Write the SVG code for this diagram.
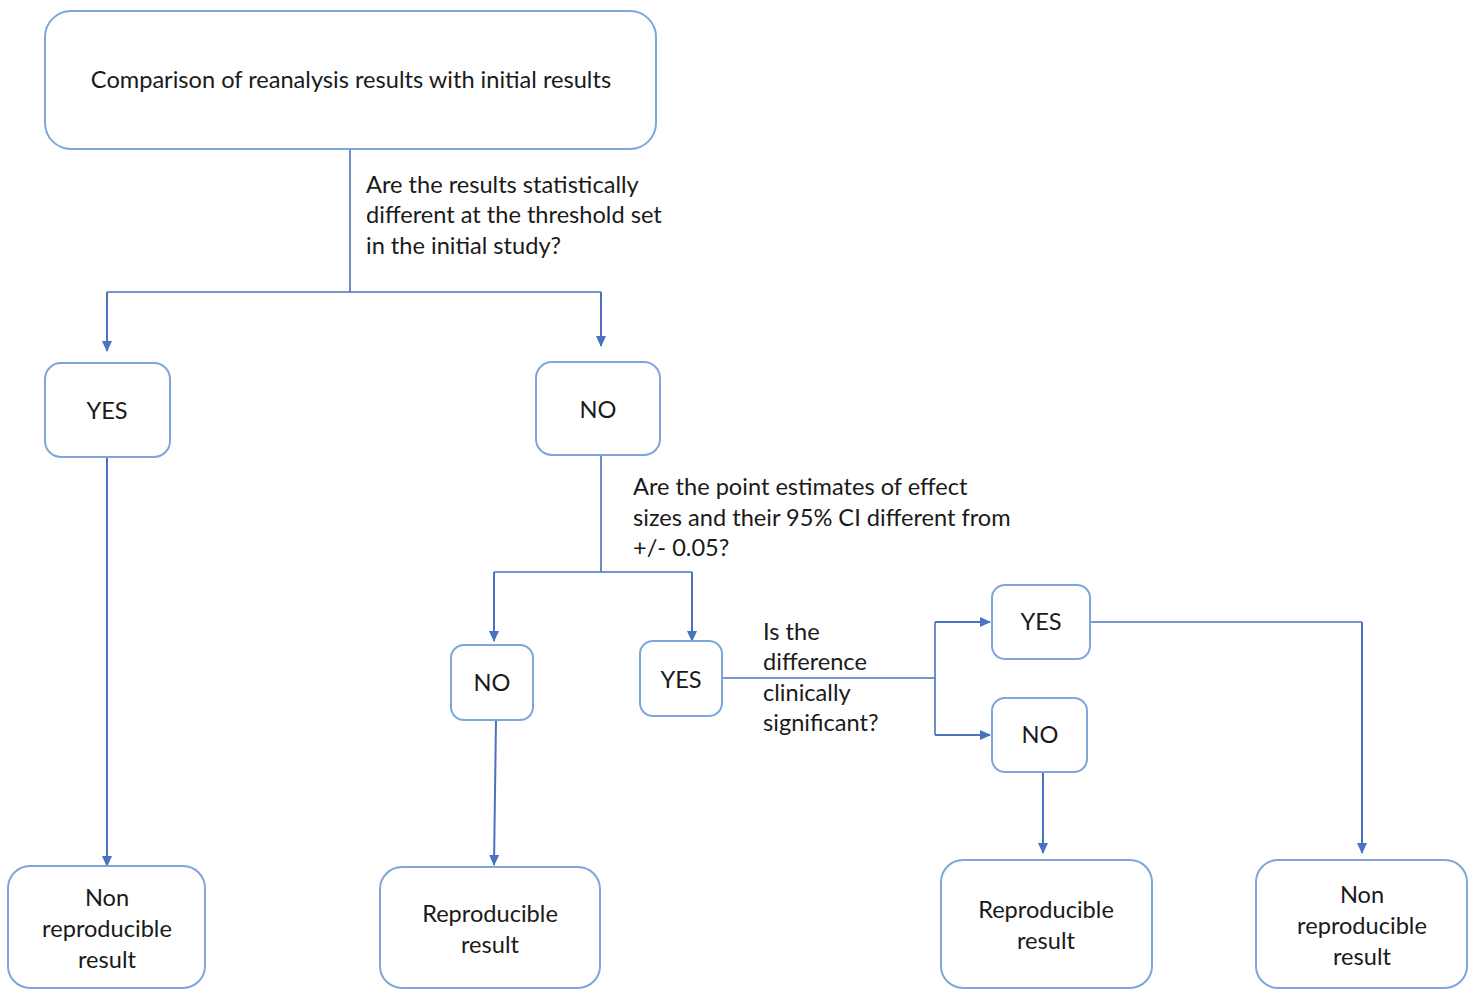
<svg xmlns="http://www.w3.org/2000/svg" width="1477" height="990" viewBox="0 0 1477 990">
<defs>
<style>
.box{fill:#fff;stroke:#7fa6dc;stroke-width:2}
.t{font-family:Lato,"Liberation Sans",sans-serif;font-size:23.6px;fill:#1a1a1a}
.c{text-anchor:middle}
.ln{fill:none;stroke:#4a72c0;stroke-width:1.6}
.la{fill:none;stroke:#4a72c0;stroke-width:2;marker-end:url(#ah)}
</style>
<marker id="ah" markerWidth="12" markerHeight="12" refX="10" refY="6" orient="auto" markerUnits="userSpaceOnUse">
<path d="M0,1 L11,6 L0,11 Z" fill="#4a72c0"/>
</marker>
</defs>
<rect width="1477" height="990" fill="#fff"/>
<g id="connectors">
<path class="ln" d="M350,149 V292 M107,292 H601"/>
<path class="la" d="M107,292 V351"/>
<path class="la" d="M601,292 V346"/>
<path class="la" d="M107,457 V866"/>
<path class="ln" d="M601,455 V572 M494,572 H692"/>
<path class="la" d="M494,572 V641"/>
<path class="la" d="M692,572 V641"/>
<path class="la" d="M496,720 L494,865"/>
<path class="ln" d="M722,678 H935 M935,622 V735"/>
<path class="la" d="M935,622 H990"/>
<path class="la" d="M935,735 H990"/>
<path class="ln" d="M1090,622 H1362"/>
<path class="la" d="M1362,622 V853"/>
<path class="la" d="M1043,772 V853"/>
<text class="t" x="366" y="193">Are the results statistically</text>
<text class="t" x="366" y="223">different at the threshold set</text>
<text class="t" x="366" y="254">in the initial study?</text>
<text class="t" x="633" y="495">Are the point estimates of effect</text>
<text class="t" x="633" y="526">sizes and their 95% CI different from</text>
<text class="t" x="633" y="556">+/- 0.05?</text>
<text class="t" x="763" y="640">Is the</text>
<text class="t" x="763" y="670">difference</text>
<text class="t" x="763" y="701">clinically</text>
<text class="t" x="763" y="731">significant?</text>
</g>
<g id="top"><rect class="box" x="45" y="11" width="611" height="138" rx="26"/><text class="t c" x="351" y="88">Comparison of reanalysis results with initial results</text></g>
<g id="yes1"><rect class="box" x="45" y="363" width="125" height="94" rx="16"/><text class="t c" x="107" y="419">YES</text></g>
<g id="no1"><rect class="box" x="536" y="362" width="124" height="93" rx="16"/><text class="t c" x="598" y="418">NO</text></g>
<g id="no2"><rect class="box" x="451" y="645" width="82" height="75" rx="13"/><text class="t c" x="492" y="691">NO</text></g>
<g id="yes2"><rect class="box" x="640" y="641" width="82" height="75" rx="13"/><text class="t c" x="681" y="688">YES</text></g>
<g id="yes3"><rect class="box" x="992" y="585" width="98" height="74" rx="13"/><text class="t c" x="1041" y="630">YES</text></g>
<g id="no3"><rect class="box" x="992" y="698" width="95" height="74" rx="13"/><text class="t c" x="1040" y="743">NO</text></g>
<g id="nonrep1"><rect class="box" x="8" y="866" width="197" height="122" rx="22"/><text class="t c" x="107" y="906">Non</text><text class="t c" x="107" y="937">reproducible</text><text class="t c" x="107" y="968">result</text></g>
<g id="rep1"><rect class="box" x="380" y="867" width="220" height="121" rx="22"/><text class="t c" x="490" y="922">Reproducible</text><text class="t c" x="490" y="953">result</text></g>
<g id="rep2"><rect class="box" x="941" y="860" width="211" height="128" rx="22"/><text class="t c" x="1046" y="918">Reproducible</text><text class="t c" x="1046" y="949">result</text></g>
<g id="nonrep2"><rect class="box" x="1256" y="860" width="211" height="128" rx="22"/><text class="t c" x="1362" y="903">Non</text><text class="t c" x="1362" y="934">reproducible</text><text class="t c" x="1362" y="965">result</text></g>
</svg>
